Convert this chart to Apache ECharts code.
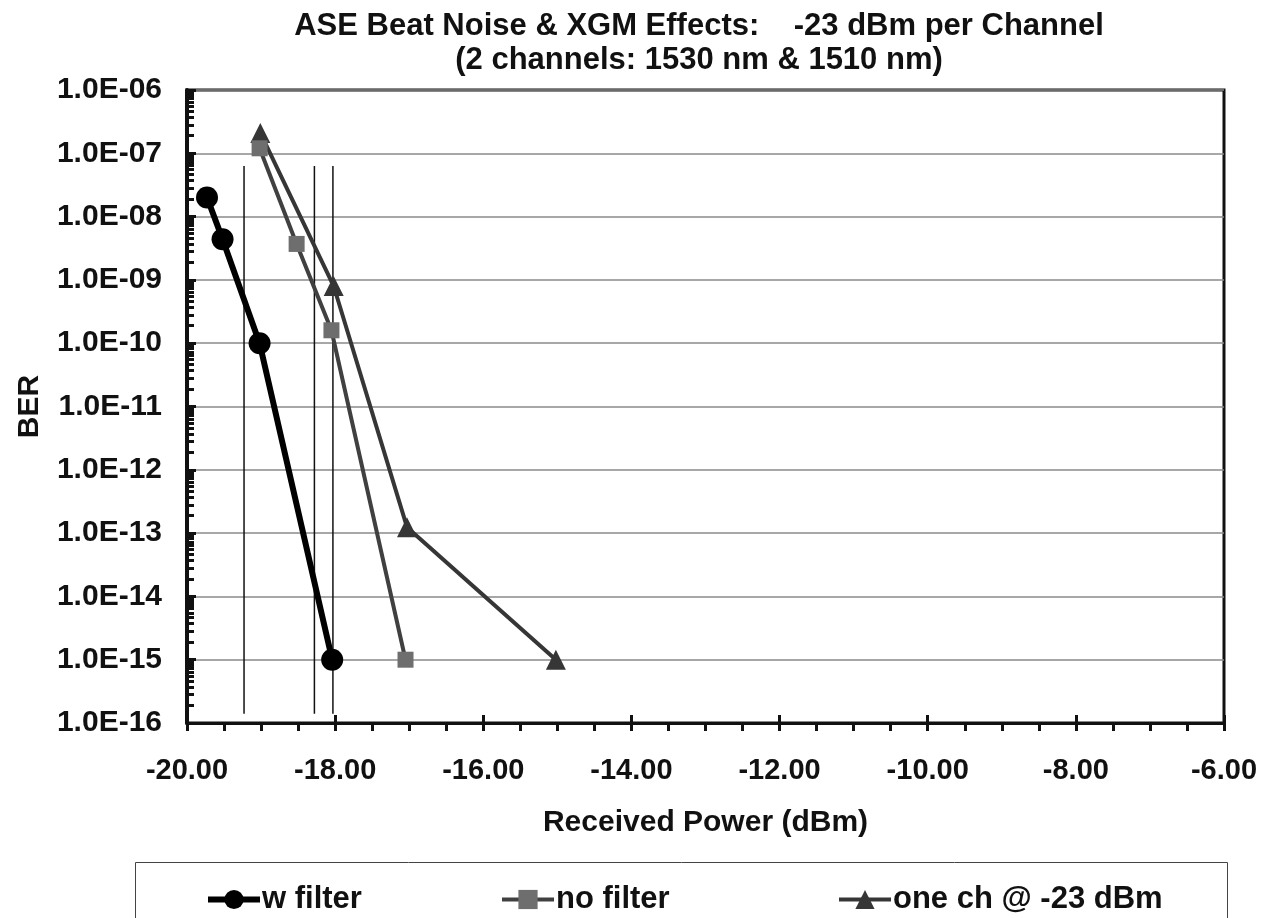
<!DOCTYPE html>
<html>
<head>
<meta charset="utf-8">
<script src="https://cdn.jsdelivr.net/npm/echarts@6/dist/echarts.min.js"></script>
<style>html,body{margin:0;padding:0;background:#fff}#c{width:1271px;height:918px}</style>
</head>
<body>
<div id="c"></div>
<script>
const seriesNames = ['w filter', 'no filter', 'one ch @ -23 dBm'];
const wFilterX = [-19.73, -19.52, -19.02, -18.04];
const wFilterY = [2.0e-8, 4.4e-9, 1.0e-10, 1.0e-15];
const noFilterX = [-19.02, -18.52, -18.05, -17.05];
const noFilterY = [1.2e-7, 3.7e-9, 1.6e-10, 1.0e-15];
const oneChX = [-19.01, -18.02, -17.03, -15.02];
const oneChY = [2.1e-7, 8.0e-10, 1.24e-13, 1.0e-15];
const markerX = [-19.23, -18.28, -18.03];
const markerYRange = [1.4e-16, 6.3e-8];
const xTicks = [-20, -18, -16, -14, -12, -10, -8, -6];
const yDecades = [1e-16, 1e-6];

const font = '"Liberation Sans", Arial, sans-serif';
const zip = (xs, ys) => xs.map((x, i) => [x, ys[i]]);

const markerSeries = markerX.map((x, i) => ({
  name: 'marker' + i,
  type: 'line',
  data: markerYRange.map(y => [x, y]),
  symbol: 'none',
  lineStyle: { color: '#111', width: 1.5 },
  z: 1,
  silent: true
}));

const chart = echarts.init(document.getElementById('c'), null, { renderer: 'canvas' });
chart.setOption({
  animation: false,
  backgroundColor: '#fff',
  title: {
    text: 'ASE Beat Noise & XGM Effects:    -23 dBm per Channel\n(2 channels: 1530 nm & 1510 nm)',
    left: 694, textAlign: 'center', top: 4,
    textStyle: { fontFamily: font, fontWeight: 'bold', fontSize: 31, lineHeight: 34, color: '#111' }
  },
  graphic: [{
    type: 'rect', shape: { x: 135.5, y: 862.5, width: 1092, height: 80 },
    style: { fill: '#fff', stroke: '#444', lineWidth: 1 }, z: 0
  }],
  legend: [
    { data: [seriesNames[0]], left: 200, top: 879 },
    { data: [seriesNames[1]], left: 495, top: 879 },
    { data: [seriesNames[2]], left: 832, top: 879 }
  ].map(l => Object.assign(l, {
    itemWidth: 52, itemHeight: 24, itemGap: 4,
    lineStyle: { width: 'inherit' },
    textStyle: { fontFamily: font, fontWeight: 'bold', fontSize: 31, color: '#111', padding: [0, 0, 0, -3] }
  })),
  grid: { left: 187, top: 90, width: 1037, height: 633, show: true, borderColor: '#111', borderWidth: 3, backgroundColor: 'transparent' },
  xAxis: [{
    type: 'value', min: xTicks[0], max: xTicks[xTicks.length - 1], interval: 2,
    name: 'Received Power (dBm)', nameLocation: 'middle', nameGap: 85,
    nameTextStyle: { fontFamily: font, fontWeight: 'bold', fontSize: 30, color: '#111' },
    axisLine: { lineStyle: { color: '#111', width: 3 } },
    axisTick: { inside: false, length: 8, lineStyle: { color: '#111', width: 3 } },
    minorTick: { show: true, splitNumber: 4, length: 8, lineStyle: { color: '#111', width: 3 } },
    splitLine: { show: false },
    axisLabel: { margin: 33, fontFamily: font, fontWeight: 'bold', fontSize: 29, color: '#111', formatter: v => v.toFixed(2) }
  }, {
    type: 'value', min: xTicks[0], max: xTicks[xTicks.length - 1], interval: 2, position: 'bottom',
    axisLine: { show: false },
    axisTick: { inside: true, length: 8, lineStyle: { color: '#111', width: 3 } },
    axisLabel: { show: false }, splitLine: { show: false }
  }],
  yAxis: {
    type: 'log', logBase: 10, min: yDecades[0], max: yDecades[1], interval: 1, splitNumber: 10,
    name: 'BER', nameLocation: 'middle', nameGap: 142, nameRotate: 90,
    nameTextStyle: { fontFamily: font, fontWeight: 'bold', fontSize: 30, color: '#111' },
    axisLine: { lineStyle: { color: '#111', width: 4 } },
    axisTick: { inside: true, length: 9, lineStyle: { color: '#111', width: 3 } },
    minorTick: { show: true, splitNumber: 10, length: 7, lineStyle: { color: '#111', width: 3 } },
    splitLine: { show: true, showMaxLine: false, showMinLine: false, lineStyle: { color: '#8a8a8a', width: 1.5 } },
    axisLabel: {
      margin: 25, fontFamily: font, fontWeight: 'bold', fontSize: 30, color: '#111',
      formatter: v => {
        const e = Math.round(Math.log10(v));
        return '1.0E' + (e < 0 ? '-' : '+') + String(Math.abs(e)).padStart(2, '0');
      }
    }
  },
  series: markerSeries.concat([
    {
      name: seriesNames[0], type: 'line', data: zip(wFilterX, wFilterY), z: 5,
      symbol: 'circle', symbolSize: 22,
      lineStyle: { color: '#000', width: 6 }, itemStyle: { color: '#000' }
    },
    {
      name: seriesNames[1], type: 'line', data: zip(noFilterX, noFilterY), z: 4,
      symbol: 'rect', symbolSize: 16,
      lineStyle: { color: '#404040', width: 4 }, itemStyle: { color: '#6e6e6e' }
    },
    {
      name: seriesNames[2], type: 'line', data: zip(oneChX, oneChY), z: 3,
      symbol: 'triangle', symbolSize: 20,
      lineStyle: { color: '#363636', width: 4 }, itemStyle: { color: '#363636' }
    }
  ])
});
</script>
</body>
</html>
